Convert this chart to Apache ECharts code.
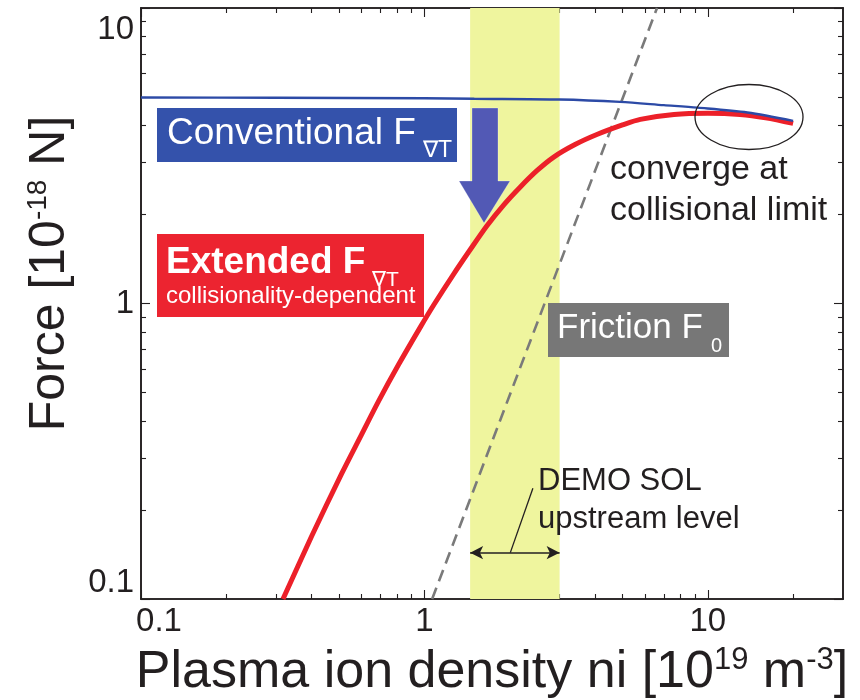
<!DOCTYPE html>
<html>
<head>
<meta charset="utf-8">
<title>Thermal force vs plasma ion density</title>
<script src="https://cdn.jsdelivr.net/npm/echarts@6/dist/echarts.min.js"></script>
<style>
  html, body { margin: 0; padding: 0; background: #ffffff; }
  #chart { width: 860px; height: 700px; }
</style>
</head>
<body>
<div id="chart"></div>
<script>
// Conventional thermal force (blue)
const densityConv = [0.1, 0.3, 1, 1.5, 3, 4.9, 7, 9.2, 13.8, 20];
const forceConv   = [4.98, 4.97, 4.95, 4.93, 4.9, 4.81, 4.69, 4.6, 4.43, 4.15];

// Extended, collisionality-dependent thermal force (red)
const densityExt = [0.317, 0.40, 0.51, 0.60, 0.69, 0.81, 0.97, 1.08, 1.27, 1.45, 1.66, 1.9, 2.18, 2.5, 2.86, 3.4, 4.06, 5.0, 5.78, 7.6, 10, 13, 16, 20];
const forceExt   = [0.1, 0.163, 0.265, 0.36, 0.468, 0.62, 0.835, 0.99, 1.26, 1.52, 1.83, 2.15, 2.48, 2.82, 3.13, 3.45, 3.73, 4.02, 4.2, 4.36, 4.40, 4.36, 4.25, 4.07];

// Friction force F0 (grey dashed, straight in log-log)
const densityFric = [1.065, 6.62];
const forceFric   = [0.1, 10];

// DEMO SOL upstream density range
const demoRange = [1.45, 3.0];

// Axis ticks
const xMajorTicks = [0.1, 1, 10];
const xMinorTicks = [0.2, 0.3, 0.4, 0.5, 0.6, 0.7, 0.8, 0.9, 2, 3, 4, 5, 6, 7, 8, 9, 20];
const yMajorTicks = [0.1, 1, 10];
const yMinorTicks = [0.2, 0.3, 0.4, 0.5, 0.6, 0.7, 0.8, 0.9, 2, 3, 4, 5, 6, 7, 8, 9];

const INK = '#231f20';
const FONT = '"Liberation Sans", Arial, Helvetica, sans-serif';

function pairs(xs, ys) { return xs.map((x, i) => [x, ys[i]]); }
function fmt(v) { return String(+(+v).toPrecision(3)); }

const tickFont = { color: INK, fontSize: 33, fontFamily: FONT };

function xAxisDef(position, ticks, len, withLabels) {
  const ax = {
    type: 'log', logBase: 10, min: 0.1, max: 30, position: position,
    axisLine: { show: true, onZero: false, lineStyle: { color: INK, width: 1.6 } },
    axisTick: { show: true, inside: true, length: len, customValues: ticks, lineStyle: { color: INK, width: 1.1 } },
    axisLabel: { show: false },
    splitLine: { show: false },
    minorTick: { show: false }, minorSplitLine: { show: false }
  };
  if (withLabels) {
    ax.axisLabel = Object.assign({
      show: true, customValues: xMajorTicks, margin: 6,
      // the first label sits just inside the left frame
      formatter: v => (+v === 0.1 ? '{first|' + fmt(v) + '}' : fmt(v)),
      rich: { first: Object.assign({ padding: [0, 0, 0, 36] }, tickFont) }
    }, tickFont);
    ax.name = '{t|Plasma ion density ni [10}{s|19}{t| m}{s|-3}{t|]}';
    ax.nameLocation = 'middle';
    ax.nameGap = 44;
    ax.nameTextStyle = {
      rich: {
        t: { fontSize: 52, fontFamily: FONT, color: INK, lineHeight: 56, verticalAlign: 'bottom' },
        s: { fontSize: 31, fontFamily: FONT, color: INK, lineHeight: 56, verticalAlign: 'bottom', padding: [0, 0, 23, 0] }
      }
    };
  }
  return ax;
}

function yAxisDef(position, ticks, len, withLabels) {
  const ax = {
    type: 'log', logBase: 10, min: 0.1, max: 10, position: position,
    axisLine: { show: true, onZero: false, lineStyle: { color: INK, width: 1.6 } },
    axisTick: { show: true, inside: true, length: len, customValues: ticks, lineStyle: { color: INK, width: 1.1 } },
    axisLabel: { show: false },
    splitLine: { show: false },
    minorTick: { show: false }, minorSplitLine: { show: false }
  };
  if (withLabels) {
    ax.axisLabel = Object.assign({
      show: true, customValues: yMajorTicks, margin: 7,
      verticalAlignMaxLabel: 'top', verticalAlignMinLabel: 'bottom',
      // the top label sits a little below the upper frame
      formatter: v => (+v === 10 ? '{top|' + fmt(v) + '}' : fmt(v)),
      rich: { top: Object.assign({ padding: [5, 0, 0, 0] }, tickFont) }
    }, tickFont);
    ax.name = '{t|Force [10}{s|-18}{t| N]}';
    ax.nameLocation = 'middle';
    ax.nameRotate = 90;
    ax.nameGap = 66;
    ax.nameTextStyle = {
      padding: [0, 0, 0, 60],
      rich: {
        t: { fontSize: 50, fontFamily: FONT, color: INK, lineHeight: 56, verticalAlign: 'bottom' },
        s: { fontSize: 28, fontFamily: FONT, color: INK, lineHeight: 56, verticalAlign: 'bottom', padding: [0, 0, 23, 0] }
      }
    };
  }
  return ax;
}

const chart = echarts.init(document.getElementById('chart'), null, { renderer: 'canvas' });

const option = {
  animation: false,
  backgroundColor: '#ffffff',
  grid: { left: 141, right: 17, top: 8, bottom: 101, containLabel: false, outerBoundsMode: 'none' },
  xAxis: [
    xAxisDef('bottom', xMajorTicks, 9, true),
    xAxisDef('bottom', xMinorTicks, 5, false),
    xAxisDef('top', xMajorTicks, 9, false),
    xAxisDef('top', xMinorTicks, 5, false)
  ],
  yAxis: [
    yAxisDef('left', yMajorTicks, 9, true),
    yAxisDef('left', yMinorTicks, 5, false),
    yAxisDef('right', yMajorTicks, 9, false),
    yAxisDef('right', yMinorTicks, 5, false)
  ],
  series: [
    {
      // DEMO SOL band and its range arrow
      name: 'DEMO SOL', type: 'line', data: [], z: 1, silent: true,
      markArea: {
        silent: true,
        itemStyle: { color: '#eff59e' },
        data: [[{ xAxis: demoRange[0] }, { xAxis: demoRange[1] }]]
      },
      markLine: {
        silent: true,
        symbol: ['arrow', 'arrow'],
        symbolSize: [10, 13],
        label: { show: false },
        lineStyle: { color: INK, width: 1.5, type: 'solid' },
        data: [[{ coord: [demoRange[0], 0.1435] }, { coord: [demoRange[1], 0.1435] }]]
      }
    },
    {
      name: 'DEMO SOL leader', type: 'line', data: [], z: 6, silent: true,
      markLine: {
        silent: true,
        symbol: ['none', 'none'],
        label: { show: false },
        lineStyle: { color: INK, width: 1.3, type: 'solid' },
        data: [[{ coord: [2.01, 0.1435] }, { coord: [2.415, 0.237] }]]
      }
    },
    {
      name: 'Friction F0', type: 'line', z: 3, silent: true,
      data: pairs(densityFric, forceFric),
      showSymbol: false,
      lineStyle: { color: '#7a7a7a', width: 2.6, type: [12, 7] }
    },
    {
      name: 'Extended', type: 'line', z: 4, silent: true,
      data: pairs(densityExt, forceExt),
      showSymbol: false, smooth: 0.3,
      lineStyle: { color: '#ec2029', width: 5 }
    },
    {
      name: 'Conventional', type: 'line', z: 5, silent: true,
      data: pairs(densityConv, forceConv),
      showSymbol: false, smooth: 0.3,
      lineStyle: { color: '#2c4aa6', width: 2.4 }
    }
  ],
  graphic: [
    // Conventional label
    { type: 'rect', shape: { x: 157, y: 108, width: 300, height: 54 }, style: { fill: '#3452ab' }, z: 10 },
    { type: 'text', x: 167, y: 134, z: 11, style: { text: 'Conventional F', fill: '#ffffff', font: '37px ' + FONT, verticalAlign: 'middle' } },
    { type: 'text', x: 423, y: 151, z: 11, style: { text: '\u2207T', fill: '#ffffff', font: '23px ' + FONT, verticalAlign: 'middle' } },
    // Extended label
    { type: 'rect', shape: { x: 157, y: 234, width: 267, height: 83 }, style: { fill: '#ec2430' }, z: 10 },
    { type: 'text', x: 166, y: 263, z: 11, style: { text: 'Extended F', fill: '#ffffff', font: 'bold 37px ' + FONT, verticalAlign: 'middle' } },
    { type: 'text', x: 372, y: 280, z: 11, style: { text: '\u2207T', fill: '#ffffff', font: '21px ' + FONT, verticalAlign: 'middle' } },
    { type: 'text', x: 166, y: 296, z: 11, style: { text: 'collisionality-dependent', fill: '#ffffff', font: '24px ' + FONT, verticalAlign: 'middle' } },
    // Friction label
    { type: 'rect', shape: { x: 548, y: 303, width: 181, height: 54 }, style: { fill: '#777777' }, z: 10 },
    { type: 'text', x: 557, y: 328, z: 11, style: { text: 'Friction F', fill: '#ffffff', font: '35px ' + FONT, verticalAlign: 'middle' } },
    { type: 'text', x: 711, y: 346, z: 11, style: { text: '0', fill: '#ffffff', font: '20px ' + FONT, verticalAlign: 'middle' } },
    // Downward arrow from conventional to extended
    {
      type: 'polygon', z: 12,
      shape: { points: [[472, 108], [498, 108], [498, 181], [510, 181], [484, 223], [459, 181], [472, 181]] },
      style: { fill: '#5259b5', stroke: 'rgba(255,255,255,0.35)', lineWidth: 0.8 }
    },
    // Convergence ellipse and note
    { type: 'ellipse', z: 12, shape: { cx: 749, cy: 117, rx: 54, ry: 32.5 }, style: { fill: 'none', stroke: INK, lineWidth: 1.3 } },
    { type: 'text', x: 610, y: 170, z: 11, style: { text: 'converge at', fill: INK, font: '34px ' + FONT, verticalAlign: 'middle' } },
    { type: 'text', x: 610, y: 211, z: 11, style: { text: 'collisional limit', fill: INK, font: '34px ' + FONT, verticalAlign: 'middle' } },
    // DEMO SOL note
    { type: 'text', x: 538, y: 481, z: 11, style: { text: 'DEMO SOL', fill: INK, font: '31px ' + FONT, verticalAlign: 'middle' } },
    { type: 'text', x: 538, y: 519, z: 11, style: { text: 'upstream level', fill: INK, font: '31px ' + FONT, verticalAlign: 'middle' } }
  ]
};

chart.setOption(option);
</script>
</body>
</html>
